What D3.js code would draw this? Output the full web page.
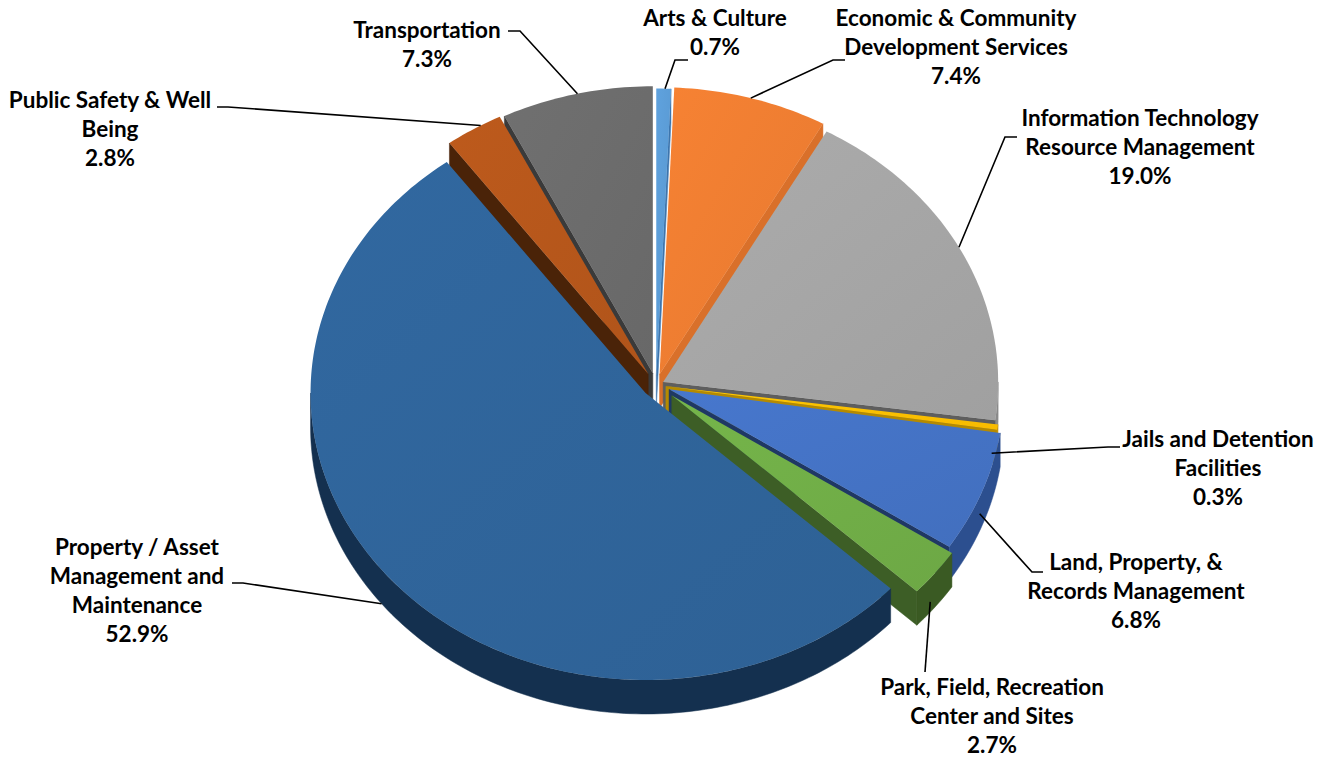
<!DOCTYPE html>
<meta charset="utf-8">
<style>
body { margin: 0; background: #fff; }
.label { font-family: Lato, "Open Sans", sans-serif; font-weight: 700; font-size: 22.5px; fill: #000; }
.leader { fill: none; stroke: #000; stroke-width: 1.6px; }
</style>
<body>
<script src="https://d3js.org/d3.v7.min.js"></script>
<script>

// data
var categories = ["Arts & Culture", "Economic & Community Development Services",
  "Information Technology Resource Management", "Jails and Detention Facilities",
  "Land, Property, & Records Management", "Park, Field, Recreation Center and Sites",
  "Property / Asset Management and Maintenance", "Public Safety & Well Being", "Transportation"];
var labelLines = [
  ["Arts & Culture"],
  ["Economic & Community", "Development Services"],
  ["Information Technology", "Resource Management"],
  ["Jails and Detention", "Facilities"],
  ["Land, Property, &", "Records Management"],
  ["Park, Field, Recreation", "Center and Sites"],
  ["Property / Asset", "Management and", "Maintenance"],
  ["Public Safety & Well", "Being"],
  ["Transportation"]
];
var shares = [0.7, 7.4, 19.0, 0.3, 6.8, 2.7, 52.9, 2.8, 7.3];

// styles
var topColors  = ["#5b9bd5", "#ed7d31", "#a5a5a5", "#ffc000", "#4472c4", "#70ad47", "#2f6499", "#b5561b", "#6b6b6b"];
var wallColors = ["#3e76ae", "#c0601e", "#8a8a8a", "#c89400", "#2c4f8f", "#3a5a23", "#14304f", "#6e3210", "#454545"];
var cutColors  = ["#3e76ae", "#d9702a", "#5e5e5e", "#b58a00", "#1f3864", "#3d5e26", "#14304f", "#4a2308", "#3a3a3a"];
var explode    = [11, 13, 8, 10, 14, 20, 14, 15, 14];   // px, along the slice middle

// label layout: [center x, first baseline]
var labelPos = [[715, 26], [956, 26], [1140, 126], [1218, 447], [1136, 570],
                [992, 695], [137, 555], [110, 108], [427, 38]];
// leader: anchor angle (deg) and depth on the slice, then the points to the label
var leaders = [
  {a: 1.5,  z: 0,   pts: [[675, 60], [688, 60]]},
  {a: 15.8, z: 0,   pts: [[833, 60], [845, 60]]},
  {a: 62,   z: 0,   pts: [[1005, 137], [1017, 137]]},
  {a: 103.5, z: 0,  pts: [[1108, 447], [1120, 447]]},
  {a: 112,  z: 0.5, pts: [[1032, 572], [1043, 572]]},
  {a: 129.5, z: 0.7, pts: [[925, 672]]},
  {a: 232,  z: 1,   pts: [[243, 583], [232, 583]]},
  {a: 330,  z: 0,   pts: [[228, 107], [217, 107]]},
  {a: 347,  z: 0,   pts: [[520, 31], [508, 31]]}
];

var width = 1332, height = 757;
var cx = 656, cy = 385, rx = 335, ry = 287, depth = 34;
var lineH = 29;

var svg = d3.select("body").append("svg")
    .attr("width", width)
    .attr("height", height);

var pie = d3.pie().sort(null).value(function(d) { return d; });
var slices = pie(shares);

function mid(d) { return (d.startAngle + d.endAngle) / 2; }

// point of slice d at angle th, radius r (0..1), depth z (0 top .. 1 bottom)
function pt(d, th, r, z) {
  var e = explode[d.index], m = mid(d);
  return [cx + e * Math.sin(m) + r * rx * Math.sin(th),
          cy - e * Math.cos(m) * ry / rx - r * ry * Math.cos(th) + z * depth];
}

function arcPts(d, a0, a1, z) {
  var n = Math.max(2, Math.ceil(Math.abs(a1 - a0) / (Math.PI / 180)));
  return d3.range(n + 1).map(function(i) { return pt(d, a0 + (a1 - a0) * i / n, 1, z); });
}

// world depth used for painter's order (bigger = farther)
function far(d, th, r) {
  return r * Math.cos(th) + explode[d.index] / rx * Math.cos(mid(d));
}

var walls = [];
slices.forEach(function(d) {
  var s = d.startAngle, e = d.endAngle;
  var lo = Math.max(s, Math.PI / 2), hi = Math.min(e, 3 * Math.PI / 2);
  if (lo < hi) {
    walls.push({d: d, fill: wallColors[d.index], key: far(d, (lo + hi) / 2, 1),
      pts: arcPts(d, lo, hi, 0).concat(arcPts(d, hi, lo, 1))});
  }
  if (Math.sin(s) < -1e-6) {
    walls.push({d: d, fill: cutColors[d.index], key: far(d, s, 0.6),
      pts: [pt(d, s, 0, 0), pt(d, s, 1, 0), pt(d, s, 1, 1), pt(d, s, 0, 1)]});
  }
  if (Math.sin(e) > 1e-6) {
    walls.push({d: d, fill: cutColors[d.index], key: far(d, e, 0.6),
      pts: [pt(d, e, 0, 0), pt(d, e, 1, 0), pt(d, e, 1, 1), pt(d, e, 0, 1)]});
  }
});
walls.sort(function(a, b) { return b.key - a.key; });

var line = d3.line();

// soft shading on the top faces
var defs = svg.append("defs");
slices.forEach(function(d) {
  var g = defs.append("linearGradient").attr("id", "top" + d.index)
      .attr("x1", "0%").attr("y1", "0%").attr("x2", "100%").attr("y2", "100%");
  g.append("stop").attr("offset", "0%").attr("stop-color", d3.color(topColors[d.index]).brighter(0.12));
  g.append("stop").attr("offset", "100%").attr("stop-color", d3.color(topColors[d.index]).darker(0.08));
});

svg.append("g").selectAll("path")
  .data(walls)
  .join("path")
    .attr("d", function(w) { return line(w.pts) + "Z"; })
    .attr("fill", function(w) { return w.fill; })
    .attr("stroke", function(w) { return w.fill; })
    .attr("stroke-width", 0.5);

svg.append("g").selectAll("path")
  .data(slices)
  .join("path")
    .attr("d", function(d) {
      return line([pt(d, 0, 0, 0)].concat(arcPts(d, d.startAngle, d.endAngle, 0))) + "Z";
    })
    .attr("fill", function(d) { return "url(#top" + d.index + ")"; });

// leader lines
svg.append("g").selectAll("path")
  .data(slices)
  .join("path")
    .attr("class", "leader")
    .attr("d", function(d) {
      var L = leaders[d.index];
      var a = pt(d, L.a * Math.PI / 180, 1, L.z);
      return line([a].concat(L.pts));
    });

// labels
var labels = svg.append("g").selectAll("text")
  .data(slices)
  .join("text")
    .attr("class", "label")
    .attr("text-anchor", "middle")
    .attr("x", function(d) { return labelPos[d.index][0]; })
    .attr("y", function(d) { return labelPos[d.index][1]; });

labels.each(function(d) {
  var t = d3.select(this);
  var rows = labelLines[d.index].concat([d3.format(".1f")(shares[d.index]) + "%"]);
  rows.forEach(function(r, i) {
    t.append("tspan")
      .attr("x", labelPos[d.index][0])
      .attr("dy", i === 0 ? 0 : lineH)
      .text(r);
  });
});

</script>
</body>
